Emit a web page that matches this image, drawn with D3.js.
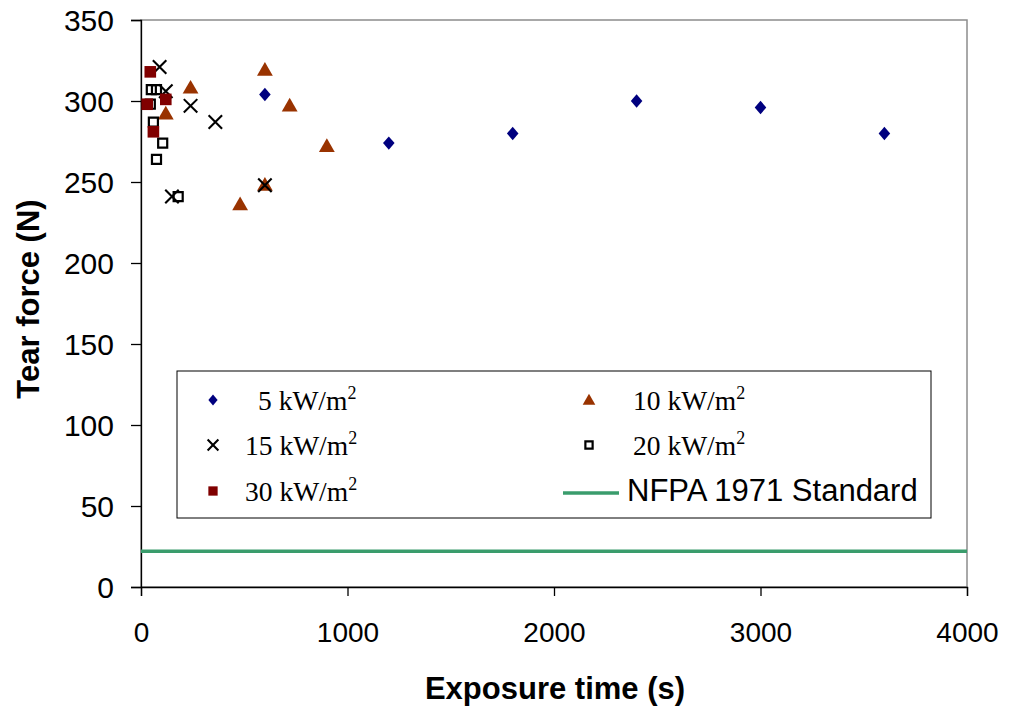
<!DOCTYPE html>
<html>
<head>
<meta charset="utf-8">
<script src="https://cdn.jsdelivr.net/npm/d3@7"></script>
<style>
  html, body { margin: 0; padding: 0; background: #fff; }
  svg { display: block; }
</style>
</head>
<body>
<svg id="chart" width="1010" height="706"></svg>
<script>
// Tear force versus exposure time for each heat flux level
const flux5 = [[600, 304], [1200, 274], [1800, 280], [2400, 300], [3000, 296], [3600, 280]];
const flux10 = [[120, 292], [240, 308], [480, 236], [600, 248], [600, 319], [720, 297], [900, 272]];
const flux15 = [[90, 321], [120, 306], [150, 241], [240, 297], [360, 287], [600, 248]];
const flux20 = [[45, 298], [50, 307], [75, 307], [60, 287], [105, 274], [75, 264], [180, 241]];
const flux30 = [[30, 298], [45, 318], [60, 281], [120, 301]];
const nfpaStandard = 22;

const xTicks = [0, 1000, 2000, 3000, 4000];
const yTicks = [0, 50, 100, 150, 200, 250, 300, 350];

const svg = d3.select("#chart");
const plotLeft = 141, plotRight = 967, plotTop = 20, plotBottom = 587;

const x = d3.scaleLinear().domain([0, 4000]).range([plotLeft, plotRight]);
const y = d3.scaleLinear().domain([0, 350]).range([plotBottom, plotTop]);

// plot frame
svg.append("rect")
  .attr("x", plotLeft).attr("y", plotTop)
  .attr("width", plotRight - plotLeft).attr("height", plotBottom - plotTop)
  .attr("fill", "none").attr("stroke", "#8c8c8c").attr("stroke-width", 1.5);

// axes
const xAxis = svg.append("g").attr("transform", `translate(0,${plotBottom})`)
  .call(d3.axisBottom(x).tickValues(xTicks).tickSize(9).tickPadding(12).tickFormat(d3.format("d")));
const yAxis = svg.append("g").attr("transform", `translate(${plotLeft},0)`)
  .call(d3.axisLeft(y).tickValues(yTicks).tickSize(10).tickPadding(17).tickFormat(d3.format("d")));

[xAxis, yAxis].forEach(g => {
  g.select(".domain").attr("stroke", "#000").attr("stroke-width", 1.3);
  g.selectAll(".tick line").attr("stroke", "#000").attr("stroke-width", 1.3);
  g.selectAll(".tick text")
    .attr("font-family", "Liberation Sans, Arial, sans-serif")
    .attr("fill", "#000");
});
xAxis.selectAll(".tick text").attr("font-size", 28).attr("y", 55).attr("dy", 0);
yAxis.selectAll(".tick text").attr("font-size", 30).attr("dy", "0.36em");

// axis titles
svg.append("text")
  .attr("x", (plotLeft + plotRight) / 2 + 1).attr("y", 699)
  .attr("text-anchor", "middle")
  .attr("font-family", "Liberation Sans, Arial, sans-serif")
  .attr("font-size", 31).attr("font-weight", "bold")
  .text("Exposure time (s)");
svg.append("text")
  .attr("transform", `translate(39,299) rotate(-90)`)
  .attr("text-anchor", "middle")
  .attr("font-family", "Liberation Sans, Arial, sans-serif")
  .attr("font-size", 31).attr("font-weight", "bold")
  .text("Tear force (N)");

// standard line
svg.append("line")
  .attr("x1", x(0)).attr("x2", x(4000))
  .attr("y1", y(nfpaStandard)).attr("y2", y(nfpaStandard))
  .attr("stroke", "#3a9c6c").attr("stroke-width", 3.5);

// marker shapes
const sym = {
  diamond: d3.symbol().type(d3.symbolDiamond2).size(105),
  triangle: d3.symbol().type(d3.symbolTriangle).size(108),
  square: d3.symbol().type(d3.symbolSquare).size(135),
  openSquare: d3.symbol().type(d3.symbolSquare).size(82),
  cross: d3.symbol().type(d3.symbolTimes).size(120)
};

const series = [
  { name: "5", data: flux5, shape: "diamond", fill: "#00007f", stroke: "none" },
  { name: "10", data: flux10, shape: "triangle", fill: "#993300", stroke: "none" },
  { name: "15", data: flux15, shape: "cross", fill: "none", stroke: "#000" },
  { name: "20", data: flux20, shape: "openSquare", fill: "none", stroke: "#000" },
  { name: "30", data: flux30, shape: "square", fill: "#800000", stroke: "none" }
];

function drawMarker(g, s, cx, cy, scale) {
  const path = g.append("path")
    .attr("transform", `translate(${cx},${cy}) scale(${scale})`)
    .attr("fill", s.fill)
    .attr("stroke", s.stroke);
  if (s.shape === "diamond") {
    path.attr("d", sym.diamond()).attr("transform", `translate(${cx},${cy}) scale(${scale * 0.9},${scale * 1.05})`);
  } else if (s.shape === "triangle") {
    path.attr("d", sym.triangle()).attr("transform", `translate(${cx},${cy + 1}) scale(${scale})`);
  } else if (s.shape === "cross") {
    path.attr("d", sym.cross()).attr("stroke-width", 2.1 / scale);
  } else if (s.shape === "openSquare") {
    path.attr("d", sym.openSquare()).attr("stroke-width", 2.2 / scale);
  } else {
    path.attr("d", sym.square());
  }
}

// points
series.forEach(s => {
  const g = svg.append("g");
  s.data.forEach(d => drawMarker(g, s, x(d[0]), y(d[1]), 1));
});

// legend
const lg = svg.append("g");
lg.append("rect")
  .attr("x", 177).attr("y", 371).attr("width", 754).attr("height", 147)
  .attr("fill", "#fff").attr("stroke", "#000").attr("stroke-width", 1);

const legendItems = [
  { s: series[0], mx: 213, my: 400, tx: 245, label: "5" },
  { s: series[1], mx: 589, my: 400, tx: 633, label: "10" },
  { s: series[2], mx: 213, my: 445, tx: 245, label: "15" },
  { s: series[3], mx: 589, my: 445, tx: 633, label: "20" },
  { s: series[4], mx: 213, my: 491, tx: 245, label: "30" }
];
legendItems.forEach(it => {
  drawMarker(lg, it.s, it.mx, it.my, 0.8);
  const t = lg.append("text")
    .attr("x", it.tx + (it.label.length === 1 ? 13 : 0)).attr("y", it.my + 10)
    .attr("font-family", "Liberation Serif, Times New Roman, serif")
    .attr("font-size", 27.5).attr("fill", "#000");
  t.append("tspan").text(it.label + " kW/m");
  t.append("tspan").attr("dy", -11).attr("font-size", 18).text("2");
});
lg.append("line")
  .attr("x1", 563).attr("x2", 619).attr("y1", 493).attr("y2", 493)
  .attr("stroke", "#3a9c6c").attr("stroke-width", 3.5);
lg.append("text")
  .attr("x", 627).attr("y", 501)
  .attr("font-family", "Liberation Sans, Arial, sans-serif")
  .attr("font-size", 31).attr("fill", "#000")
  .text("NFPA 1971 Standard");
</script>
</body>
</html>
